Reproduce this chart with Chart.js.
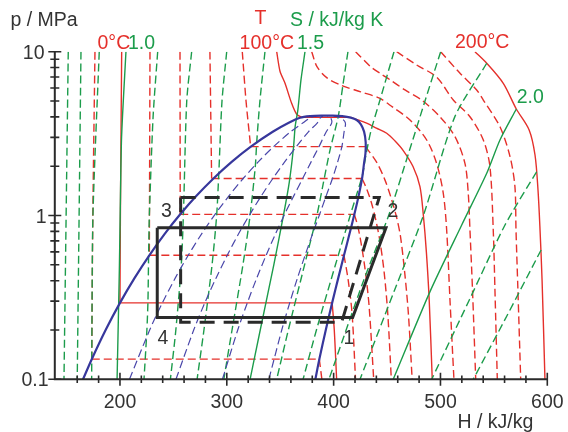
<!DOCTYPE html>
<html lang="en">
<head>
<meta charset="UTF-8">
<title>R134a p-h diagram</title>
<script src="https://cdn.jsdelivr.net/npm/chart.js"></script>
<style>
  body { margin: 0; background: #fff; }
  .wrap { position: relative; width: 568px; height: 432px; }
</style>
</head>
<body>
<div class="wrap"><canvas id="ph"></canvas></div>
<script>
// axis ticks (H in kJ/kg, p in MPa)
const hTicks = [200, 300, 400, 500, 600];
const pTicks = [0.1, 1, 10];

// saturation dome: liquid side up to the top, then vapour side back down
const domeLiquid = [[165.4,0.1],[173.6,0.1327],[186.7,0.2006],[200,0.2928],[213.6,0.4146],[227.5,0.5717],[241.7,0.7702],[256.4,1.0166],[271.6,1.318],[287.5,1.682],[304.3,2.117],[322.5,2.633],[343,3.244],[358,3.68],[368.5,3.95],[378,4.04],[389,4.07]];
const domeVapour = [[389,4.07],[399,4.07],[408,4.04],[416,3.96],[421.6,3.83],[425.5,3.6],[428.5,3.25],[430,2.8],[429.8,2.4],[428.6,2.117],[426.6,1.682],[423.4,1.318],[419.4,1.0166],[414.8,0.7702],[409.7,0.5717],[404.3,0.4146],[398.6,0.2928],[392.7,0.2006],[386.6,0.1327],[382.9,0.1]];

// vapour quality lines x = 0.2 ... 0.8
const q02 = [[208.9,0.1],[227.9,0.2006],[239.7,0.2928],[251.7,0.4146],[263.9,0.5717],[276.3,0.7702],[289,1.0166],[302,1.318],[315.3,1.682],[329.2,2.117],[343.8,2.633],[359.7,3.244],[371.4,3.68],[378.1,3.95],[383,4.05]];
const q04 = [[252.4,0.1],[269.1,0.2006],[279.4,0.2928],[289.9,0.4146],[300.4,0.5717],[310.9,0.7702],[321.6,1.0166],[332.3,1.318],[343.1,1.682],[354,2.117],[365.1,2.633],[376.4,3.244],[384.8,3.68],[387.6,3.95],[390,4.06]];
const q06 = [[295.9,0.1],[310.3,0.2006],[319.2,0.2928],[328,0.4146],[336.8,0.5717],[345.5,0.7702],[354.1,1.0166],[362.7,1.318],[371,1.682],[378.8,2.117],[386.3,2.633],[393.1,3.244],[398.2,3.68],[397.2,3.95],[394,4.06]];
const q08 = [[339.4,0.1],[351.5,0.2006],[358.9,0.2928],[366.1,0.4146],[373.3,0.5717],[380.2,0.7702],[386.9,1.0166],[393,1.318],[398.9,1.682],[403.7,2.117],[407.7,2.633],[409.8,3.244],[411,3.68],[406.7,3.95],[400,4.06]];

// isotherms below the critical point: liquid branch + vapour branch (joined at p_sat)
const tLiqM20 = [[176.6,10],[174.6,1],[173.6,0.1327]];
const tVapM20 = [[386.6,0.1327],[389,0.1]];
const tLiq0 = [[201.6,10],[200.4,1],[200,0.2928]];
const tVap0 = [[398.6,0.2928],[400.6,0.2],[402.8,0.1]];
const tLiq20 = [[228.1,10],[227.5,0.5717]];
const tVap20 = [[409.7,0.5717],[413.7,0.4],[417.3,0.25],[420.5,0.1]];
const tLiq40 = [[256.2,10],[256.4,1.0166]];
const tVap40 = [[419.4,1.0166],[422.8,0.85],[426.2,0.65],[429.8,0.45],[433.2,0.28],[437.5,0.1]];
const tLiq60 = [[284.2,10],[285.8,1.682]];
const tVap60 = [[426.6,1.682],[431,1.45],[435.3,1.2],[439.3,0.95],[443.3,0.7],[447.3,0.45],[450.7,0.25],[454,0.1]];
const tLiq80 = [[314.5,10],[318,5],[322.3,2.633]];
const tVap80 = [[429.9,2.633],[440.5,2.1],[448,1.65],[453.5,1.3],[458.5,1],[462.5,0.75],[466.5,0.45],[470,0.25],[473.5,0.1]];
const tLiq100 = [[346.7,10],[349.8,7.6],[354.5,6.41],[360.7,4.84],[365.4,4.15],[370.5,3.97]];
const tVap100 = [[416,3.97],[422,3.85],[430.9,3.66],[440,3.42],[449.7,3.18],[457.5,2.85],[465,2.5],[474.3,1.99],[480.8,1.5],[484,1],[486.8,0.6],[489.5,0.3],[492.3,0.1]];
// isotherms above the critical temperature
const t120 = [[379.5,10],[384.4,8.1],[393.8,6.92],[406.6,6.25],[425.3,5.69],[443,5.2],[455,4.6],[471.5,3.83],[487.1,2.89],[496.4,2.08],[502.6,1.37],[505.8,0.816],[508.9,0.305],[512.6,0.1]];
const t140 = [[420.6,10],[434.6,8.1],[443.4,7.38],[453.4,6.7],[466.8,5.84],[482.4,5.07],[499.5,4.01],[513.6,3.03],[522.9,2.08],[526,1.37],[527.6,0.816],[530,0.35],[533,0.1]];
const t160 = [[459,10],[477.7,8.3],[496.4,7],[512,5.07],[527.6,4.01],[540.1,2.89],[546.3,1.99],[549.4,0.816],[551,0.35],[553.2,0.1]];
const t180 = [[500.2,10],[518.3,7.38],[533.9,5.84],[540.1,5.07],[555.7,3.48],[565.1,2.29],[569.7,1.5],[570.7,0.816],[572.5,0.35],[575.1,0.1]];
const t200 = [[532.3,10],[543.3,8.5],[558.8,6.41],[571,4.47],[583,3.33],[588.5,2.34],[591.3,1.43],[593.2,0.816],[595.1,0.404],[597.8,0.1]];

// isentropes, S in kJ/kg K
const s080 = [[151.6,10],[147.6,0.1]];
const s085 = [[163.5,10],[160,0.1]];
const s090 = [[180.6,10],[174.7,1],[173.6,0.1327],[173.5,0.1]];
const s100 = [[205.6,10],[201.5,3],[200.2,1],[199.5,0.5],[198.8,0.2928],[197.3,0.1]];
const s110 = [[235.3,10],[231,4],[227.5,1],[226.8,0.57],[226.2,0.3],[225.2,0.2],[222.5,0.1]];
const s120 = [[267.1,10],[262.5,5],[259.5,1.07],[257.4,0.5],[252.3,0.2],[247.2,0.1]];
const s130 = [[299.9,10],[295.5,5],[292.5,1.8],[290.5,1],[286.2,0.5],[278.6,0.2],[272.2,0.1]];
const s140 = [[335.7,10],[331,5],[328,2.8],[326.7,2],[321.8,1],[315.1,0.5],[304.9,0.2],[297.2,0.1]];
const s150 = [[373.2,10],[369.4,6.7],[366.5,4.4],[364,3.5],[362.5,2.63],[358.5,1.6],[353,1],[344,0.5],[331.3,0.2],[321.8,0.1]];
const s160 = [[413.4,10],[408.7,6.27],[404.3,4.01],[396.6,2.51],[390.3,1.57],[384.3,1],[372.8,0.5],[357.6,0.2],[346.7,0.1]];
const s170 = [[456.5,10],[443.4,5.07],[435,3.3],[430,2.3],[427,1.77],[415.5,1],[401.7,0.5],[383.9,0.2],[371.4,0.1]];
const s180 = [[500.2,10],[485.5,5],[471,2.5],[451.5,1],[428,0.4],[395.6,0.1]];
const s190 = [[543.3,8.5],[513.4,4],[484,1],[457,0.35],[424.7,0.1]];
const s200 = [[571,4.47],[555.7,2.89],[543.3,1.81],[519.9,0.875],[490.2,0.343],[455.8,0.1]];
const s210 = [[590,1.85],[560.4,0.875],[527,0.305],[491.8,0.1]];
const s220 = [[594.2,0.616],[562.6,0.247],[530.7,0.1]];

// refrigeration cycles 1-2-3-4
const cycleSolid = [[234.9,0.842],[449,0.842],[417.8,0.238],[234.9,0.238],[234.9,0.842]];
const cycleDashed = [[256.8,1.29],[442.7,1.29],[407.5,0.223],[256.8,0.223],[256.8,1.29]];

const RED = '#e5302b', GREEN = '#1c9c4b', BLUE = '#37379c', QBLUE = '#4a47aa', INK = '#2a2a2a';
const DASH = [8, 4];
const FONT = '19.5px "Liberation Sans", Arial, sans-serif';

const pts = a => a.map(([h, p]) => ({ x: h, y: p }));
function line(arr, color, width, dash, tension, order) {
    return { data: pts(arr), showLine: true, borderColor: color, borderWidth: width,
             borderDash: dash, tension: tension, order: order, pointRadius: 0, fill: false };
}

const datasets = [];
// cycles on top
datasets.push(line(cycleSolid, INK, 3, [], 0, 0));
datasets.push(line(cycleDashed, INK, 3, [15, 9], 0, 0));
// dome and quality lines
datasets.push(line(domeLiquid.concat(domeVapour.slice(1)), BLUE, 2.2, [], 0.3, 1));
[q02, q04, q06, q08].forEach(q => datasets.push(line(q, QBLUE, 1.2, DASH, 0.3, 2)));
// isentropes
[[s080,0],[s085,0],[s090,0],[s100,1],[s110,0],[s120,0],[s130,0],[s140,0],[s150,1],
 [s160,0],[s170,0],[s180,0],[s190,0],[s200,1],[s210,0],[s220,0]].forEach(([s, solid]) =>
    datasets.push(line(s, GREEN, 1.4, solid ? [] : DASH, 0.25, 3)));
// isotherms
[[tLiqM20,tVapM20,0],[tLiq0,tVap0,1],[tLiq20,tVap20,0],[tLiq40,tVap40,0],
 [tLiq60,tVap60,0],[tLiq80,tVap80,0],[tLiq100,tVap100,1]].forEach(([liq, vap, solid]) => {
    const d = solid ? [] : DASH;
    datasets.push(line(liq, RED, 1.4, d, 0.25, 4));
    datasets.push(line([liq[liq.length - 1], vap[0]], RED, 1.4, d, 0, 4));
    datasets.push(line(vap, RED, 1.4, d, 0.3, 4));
});
[[t120,0],[t140,0],[t160,0],[t180,0],[t200,1]].forEach(([t, solid]) =>
    datasets.push(line(t, RED, 1.4, solid ? [] : DASH, 0.3, 4)));

function txt(ctx, s, x, y, color, align) {
    ctx.fillStyle = color;
    ctx.textAlign = align || 'left';
    ctx.fillText(s, x, y);
}

// axes, ticks and all labels
const frame = {
    id: 'frame',
    afterDatasetsDraw(chart) {
        const { ctx, chartArea: a, scales: { x, y } } = chart;
        ctx.save();
        ctx.strokeStyle = INK;
        ctx.lineWidth = 2;
        ctx.beginPath();
        ctx.moveTo(a.left, a.top);
        ctx.lineTo(a.left, a.bottom);
        ctx.lineTo(a.right, a.bottom);
        ctx.stroke();

        ctx.lineWidth = 1.6;
        ctx.beginPath();
        for (let h = 160; h <= 600; h += 20) {
            const px = x.getPixelForValue(h);
            const len = h % 100 === 0 ? 6.5 : 3.8;
            ctx.moveTo(px, a.bottom - len);
            ctx.lineTo(px, a.bottom + len);
        }
        [0.1, 1].forEach(dec => {
            for (let m = 1; m <= 10; m++) {
                const py = y.getPixelForValue(dec * m);
                const len = (m === 1 || m === 10) ? 6.5 : 4.5;
                ctx.moveTo(a.left - len, py);
                ctx.lineTo(a.left + len, py);
            }
        });
        ctx.stroke();

        ctx.font = FONT;
        ctx.textBaseline = 'alphabetic';
        hTicks.forEach(h => txt(ctx, String(h), x.getPixelForValue(h), 408, '#333', 'center'));
        const pRight = { 0.1: 48.5, 1: 46.5, 10: 44.5 };
        pTicks.forEach(p => txt(ctx, String(p), pRight[p], y.getPixelForValue(p) + 7, '#333', 'right'));

        txt(ctx, 'p / MPa', 10.5, 26, '#333');
        txt(ctx, 'H / kJ/kg', 457.5, 428, '#333');
        txt(ctx, 'T', 254.5, 24, RED);
        txt(ctx, 'S / kJ/kg K', 290, 26, GREEN);
        txt(ctx, '0°C', 97.5, 48.5, RED);
        txt(ctx, '1.0', 128, 48.5, GREEN);
        txt(ctx, '100°C', 239.6, 48.5, RED);
        txt(ctx, '1.5', 297, 48.5, GREEN);
        txt(ctx, '200°C', 455, 48, RED);
        txt(ctx, '2.0', 516.7, 103, GREEN);

        txt(ctx, '3', 161, 217, '#333');
        txt(ctx, '2', 387.5, 216.7, '#333');
        txt(ctx, '4', 157.5, 344.3, '#333');
        txt(ctx, '1', 343.5, 344.3, '#333');
        ctx.restore();
    }
};

new Chart(document.getElementById('ph'), {
    type: 'scatter',
    data: { datasets: datasets },
    options: {
        responsive: true,
        maintainAspectRatio: false,
        animation: false,
        layout: { padding: { left: 54.8, right: 20.7, top: 51.7, bottom: 52.7 } },
        plugins: { legend: { display: false }, tooltip: { enabled: false } },
        scales: {
            x: { type: 'linear', min: 139, max: 600, display: false },
            y: { type: 'logarithmic', min: 0.1, max: 10, display: false }
        }
    },
    plugins: [frame]
});
</script>
</body>
</html>
